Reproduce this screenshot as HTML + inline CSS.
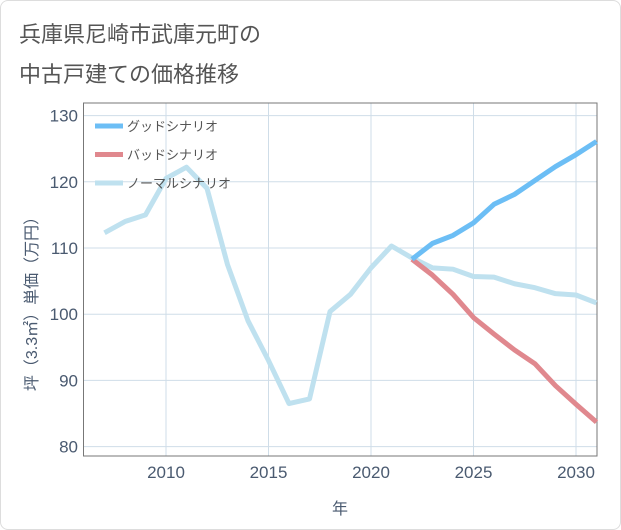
<!DOCTYPE html>
<html><head><meta charset="utf-8"><style>
body{margin:0;background:#fff}
#wrap{position:relative;width:619px;height:528px;border:1px solid #ddd;border-radius:8px;background:#fff;overflow:hidden}
.t{position:absolute;left:18px;font:22px "Liberation Sans","Noto Sans CJK JP",sans-serif;color:#555}
</style></head><body>
<div id="wrap">
<div class="t" style="top:16px">兵庫県尼崎市武庫元町の</div>
<div class="t" style="top:56px">中古戸建ての価格推移</div>
<svg id="c" width="621" height="530" style="position:absolute;left:-1px;top:-1px"></svg>
</div>
<script>
const years=[2007,2008,2009,2010,2011,2012,2013,2014,2015,2016,2017,2018,2019,2020,2021,2022,2023,2024,2025,2026,2027,2028,2029,2030,2031];
const normal=[112.3,114,115,120.5,122.2,119,107.5,99,93,86.5,87.2,100.4,103,107,110.3,108.5,107,106.8,105.7,105.6,104.6,104,103.1,102.9,101.7];
const goodYears=[2022,2023,2024,2025,2026,2027,2028,2029,2030,2031];
const good=[108.3,110.7,111.9,113.8,116.6,118.1,120.2,122.3,124.1,126.1];
const bad=[108.3,105.9,103,99.5,97,94.6,92.5,89.2,86.4,83.7];
const xTicks=[2010,2015,2020,2025,2030];
const yTicks=[80,90,100,110,120,130];
const L=83.5,R=597,T=103,B=456;
const x=v=>166+(v-2010)*20.5;
const y=v=>248-(v-110)*6.62;
const s=document.getElementById('c');const NS='http://www.w3.org/2000/svg';
function mk(t,a,p){const e=document.createElementNS(NS,t);for(const k in a)e.setAttribute(k,a[k]);(p||s).appendChild(e);return e;}
const f='"Liberation Sans","Noto Sans CJK JP",sans-serif';
xTicks.forEach(v=>{const g=mk('line',{x1:x(v),x2:x(v),y1:T,y2:B,stroke:'#cfdde8','stroke-width':1});

const t=mk('text',{x:x(v),y:478,'text-anchor':'middle','font-size':17,fill:'#4a5a70','font-family':f});t.textContent=v;
});
yTicks.forEach(v=>{const g=mk('line',{x1:L,x2:R,y1:y(v),y2:y(v),stroke:'#cfdde8','stroke-width':1});

const t=mk('text',{x:78,y:y(v)+6,'text-anchor':'end','font-size':17,fill:'#4a5a70','font-family':f});t.textContent=v;
});
const fr=mk('rect',{x:L,y:T,width:R-L,height:B-T,fill:'none',stroke:'#777','stroke-width':1});

function line(xs,vs,col,name){const p=mk('polyline',{points:vs.map((v,i)=>x(xs[i])+','+y(v)).join(' '),fill:'none',stroke:col,'stroke-width':5,'stroke-linejoin':'round'});
}
line(years,normal,'#bfe1ef','normal-scenario-line');
line(goodYears,bad,'#e0888e','bad-scenario-line');
line(goodYears,good,'#6cbef5','good-scenario-line');
const leg=[['グッドシナリオ','#6cbef5'],['バッドシナリオ','#e0888e'],['ノーマルシナリオ','#bfe1ef']];
leg.forEach((l,i)=>{const yy=126+i*28.5;
const a=mk('line',{x1:95,x2:123,y1:yy,y2:yy,stroke:l[1],'stroke-width':5});
const t=mk('text',{x:127,y:yy+5,'font-size':13,fill:'#555','font-family':f});t.textContent=l[0];
});
const xt=mk('text',{x:340,y:514,'text-anchor':'middle','font-size':16,fill:'#4a5a70','font-family':f});xt.textContent='年';

const yt=mk('text',{x:0,y:0,'text-anchor':'middle','font-size':16,fill:'#4a5a70','font-family':f,transform:'translate(37,300) rotate(-90)'});yt.textContent='坪（3.3㎡）単価（万円）';

</script>
</body></html>
